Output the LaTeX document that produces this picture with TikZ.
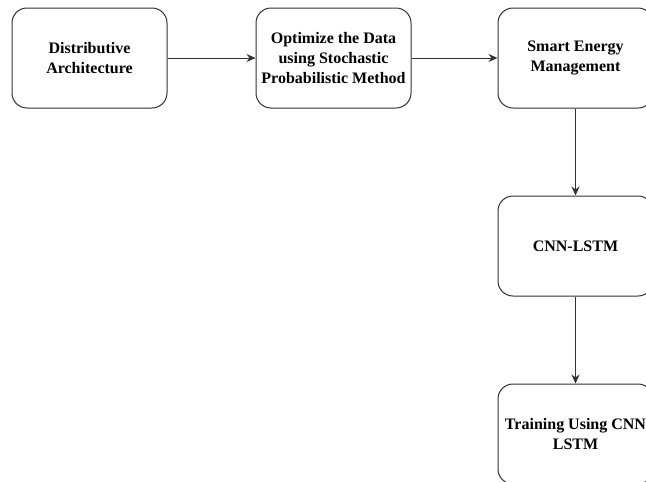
\documentclass[tikz,border=0pt]{standalone}
\usepackage{fontspec}
\setmainfont{Liberation Serif}
\usepackage{tikz}
\usetikzlibrary{arrows.meta}
\tikzset{procbox/.style={draw=black!80, line width=1pt, rounded corners=15pt,
  minimum width=155pt, minimum height=100pt, inner sep=0pt, align=center,
  font=\bfseries\fontsize{16}{20}\selectfont}}
\def\procnode{\node[procbox]}
\def\drawflow{\draw[black!80, line width=1pt, -{Stealth[length=9pt,width=8pt]}]}

\begin{document}
\begin{tikzpicture}[x=1pt,y=-1pt]
\clip (0,0) rectangle (646,482);
\procnode (dist) at (89.5,58) {Distributive\\Architecture};
\procnode (optim) at (333.5,58) {Optimize the Data\\using Stochastic\\Probabilistic Method};
\procnode (smart) at (575.5,58) {Smart Energy\\Management};
\procnode (cnn) at (575.5,246) {CNN-LSTM};
\procnode (train) at (575.5,434) {Training Using CNN\\LSTM};
\drawflow (dist) -- (optim);
\drawflow (optim) -- (smart);
\drawflow (smart) -- (cnn);
\drawflow (cnn) -- (train);
\end{tikzpicture}
\end{document}
